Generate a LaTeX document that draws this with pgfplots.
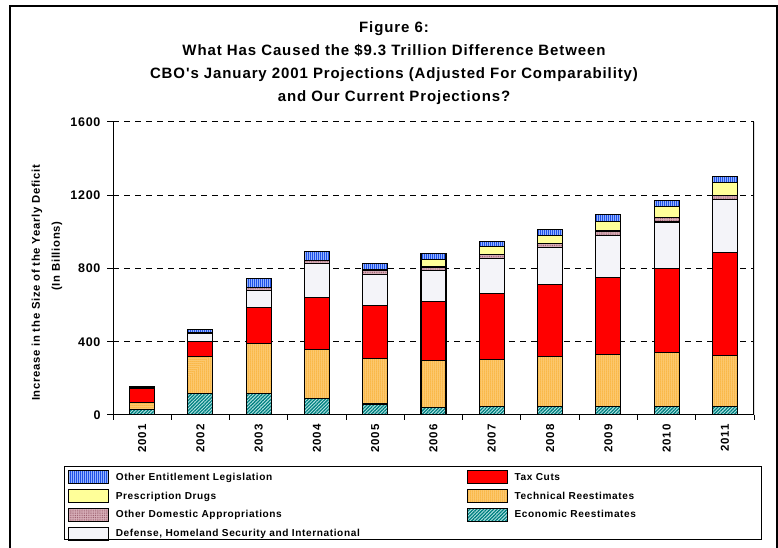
\documentclass[border=0pt]{standalone}
\usepackage{fontspec}
\setmainfont{Liberation Sans}
\newfontfamily\lsfont[LetterSpace=6]{Liberation Sans}
\usepackage{pgfplots}
\usepackage{pgfplotstable}
\pgfplotsset{compat=1.18}
\usetikzlibrary{patterns.meta}

\definecolor{tealh}{HTML}{008080}
\definecolor{tealbg}{HTML}{B8E6E6}
\definecolor{orgdot}{HTML}{F59A00}
\definecolor{orgbg}{HTML}{FFD690}
\definecolor{taxred}{HTML}{FF0000}
\definecolor{defdot}{HTML}{8080C0}
\definecolor{dombg}{HTML}{D8B0BA}
\definecolor{domdot}{HTML}{9A5C6C}
\definecolor{rxyel}{HTML}{FFFF99}
\definecolor{entbg}{HTML}{95B4FF}
\definecolor{entln}{HTML}{1E50E6}

% year index, then the seven pieces from the bottom up (billions)
\pgfplotstableread{
x econ tech tax def dom rx ent
0 28 40 75 5 3 0 5
1 118 200 82 44 4 0 20
2 118 273 194 97 12 3 49
3 91 268 284 186 14 3 48
4 60 250 286 173 20 5 34
5 42 255 322 169 20 40 35
6 45 258 361 191 23 42 27
7 45 273 393 204 23 44 33
8 45 285 423 225 27 51 39
9 45 295 462 252 24 62 33
10 45 280 562 289 24 69 33
}\data

\pgfplotsset{
  seg/.style={draw=black, line width=1.1pt},
  econ/.style={seg, fill=tealbg, postaction={pattern={Lines[angle=45,distance=2.4pt,line width=1.3pt]}, pattern color=tealh}},
  tech/.style={seg, fill=orgbg, postaction={pattern={Dots[radius=0.75pt,distance=2pt]}, pattern color=orgdot}},
  tax/.style={seg, fill=taxred},
  def/.style={seg, fill=white, postaction={pattern={Dots[radius=0.45pt,distance=2pt]}, pattern color=defdot}},
  dom/.style={seg, fill=dombg, postaction={pattern={Dots[radius=0.55pt,distance=1.8pt]}, pattern color=domdot}},
  rx/.style={seg, fill=rxyel},
  ent/.style={seg, fill=entbg, postaction={pattern={Lines[angle=90,distance=2pt,line width=0.9pt]}, pattern color=entln}},
  sw/.style={legend image code/.code={\draw[##1, draw=black, line width=0.8pt] (0pt,-6.5pt) rectangle (40pt,6.5pt);}},
}

\begin{document}
\begin{tikzpicture}
\useasboundingbox (0pt,0pt) rectangle (778pt,548pt);

% outer chart frame (cut by the picture edge)
\draw[line width=1.3pt] (10pt,542pt) rectangle (777pt,-20pt);

\node[font=\lsfont\bfseries\fontsize{15}{23}\selectfont, align=center] at (394pt,485pt)
  {Figure 6:\\What Has Caused the \$9.3 Trillion Difference Between\\CBO's January 2001 Projections (Adjusted For Comparability)\\and Our Current Projections?};

\node[rotate=90, font=\lsfont\bfseries\fontsize{11.3}{12}\selectfont] at (37pt,265pt) {Increase in the Size of the Yearly Deficit};
\node[rotate=90, font=\lsfont\bfseries\fontsize{11.3}{12}\selectfont] at (57pt,292pt) {(In Billions)};

\begin{axis}[
  at={(113pt,133pt)}, anchor=south west,
  scale only axis, width=641pt, height=293pt,
  ybar stacked, bar width=25pt,
  xmin=-0.5, xmax=10.5, ymin=0, ymax=1600,
  ytick={0,400,800,1200,1600},
  xtick={0,...,10},
  xticklabels={2001,2002,2003,2004,2005,2006,2007,2008,2009,2010,2011},
  minor xtick={-0.5,0.5,...,10.5},
  tick pos=left, tick align=outside,
  major tick length=6pt, minor tick length=5pt,
  major x tick style={draw=none},
  tick style={black, line width=1pt},
  axis line style={draw=none},
  ymajorgrids,
  grid style={black, line width=1pt, dash pattern=on 6pt off 5pt},
  y tick label style={xshift=-3pt, font=\lsfont\bfseries\fontsize{12.5}{13}\selectfont},
  x tick label style={rotate=90, anchor=east, font=\lsfont\bfseries\fontsize{11.5}{12}\selectfont},
  /pgf/number format/assume math mode=true,
  /pgf/number format/1000 sep={},
  legend columns=2,
  legend cell align=left,
  legend style={draw=none, fill=none, inner sep=0pt, outer sep=0pt,
    anchor=north west, at={(-0.0702,-0.1894)},
    row sep=5pt, column sep=7pt,
    nodes={inner sep=0pt, text width=344pt, font=\lsfont\bfseries\fontsize{10.1}{11}\selectfont}},
]
\addplot[econ, forget plot] table[x=x, y=econ] {\data};
\addplot[tech, forget plot] table[x=x, y=tech] {\data};
\addplot[tax, forget plot] table[x=x, y=tax] {\data};
\addplot[def, forget plot] table[x=x, y=def] {\data};
\addplot[dom, forget plot] table[x=x, y=dom] {\data};
\addplot[rx, forget plot] table[x=x, y=rx] {\data};
\addplot[ent, forget plot] table[x=x, y=ent] {\data};

\addlegendimage{ent, sw}\addlegendentry{Other Entitlement Legislation}
\addlegendimage{tax, sw}\addlegendentry{Tax Cuts}
\addlegendimage{rx, sw}\addlegendentry{Prescription Drugs}
\addlegendimage{tech, sw}\addlegendentry{Technical Reestimates}
\addlegendimage{dom, sw}\addlegendentry{Other Domestic Appropriations}
\addlegendimage{econ, sw}\addlegendentry{Economic Reestimates}
\addlegendimage{def, sw}\addlegendentry{Defense, Homeland Security and International}

\draw[line width=1.3pt] (rel axis cs:0,1) -- (rel axis cs:0,0) -- (rel axis cs:1,0) -- (rel axis cs:1,1);
\end{axis}

% legend frame
\draw[line width=1pt] (64pt,81pt) rectangle (761pt,8pt);
\end{tikzpicture}
\end{document}
